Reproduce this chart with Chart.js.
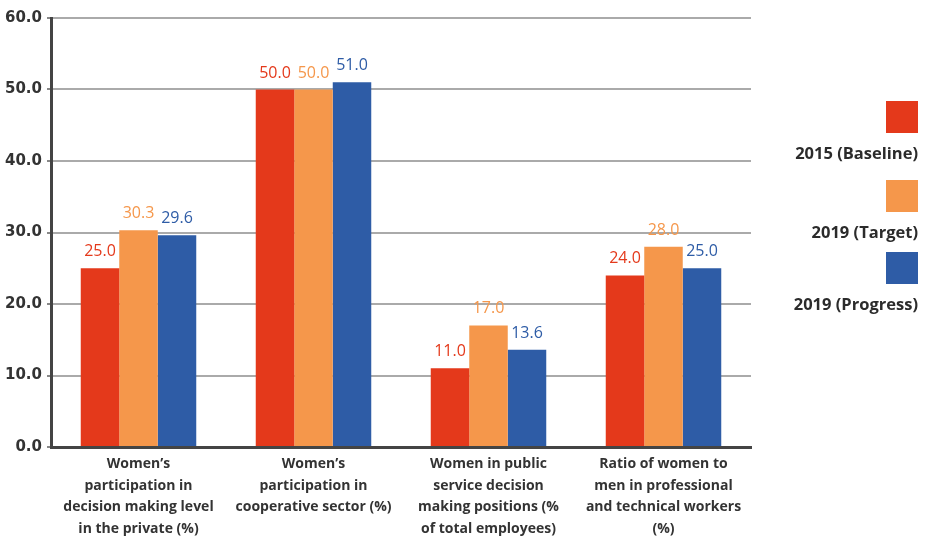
<!DOCTYPE html>
<html>
<head>
<meta charset="utf-8">
<script src="https://cdn.jsdelivr.net/npm/chart.js@4"></script>
<style>
  html, body { margin: 0; padding: 0; background: #fff; }
  #wrap { position: relative; width: 926px; height: 536px; }
  #legend { position: absolute; left: 0; top: 0; width: 926px; height: 536px; pointer-events: none;
            font-family: "Open Sans", sans-serif; font-weight: bold; font-size: 16.5px; color: #2b2b2b; }
  #legend .box { position: absolute; right: 8px; width: 32px; height: 32px; }
  #legend .txt { position: absolute; right: 8px; line-height: 20px; white-space: nowrap; }
</style>
</head>
<body>
<div id="wrap">
  <canvas id="myChart" width="926" height="536"></canvas>
  <div id="legend"></div>
</div>
<script>
const categories = [
  ["Women’s", "participation in", "decision making level", "in the private (%)"],
  ["Women’s", "participation in", "cooperative sector (%)"],
  ["Women in public", "service decision", "making positions (%", "of total employees)"],
  ["Ratio of women to", "men in professional", "and technical workers", "(%)"]
];
const seriesNames = ["2015 (Baseline)", "2019 (Target)", "2019 (Progress)"];
const baseline2015 = [25.0, 50.0, 11.0, 24.0];
const target2019 = [30.3, 50.0, 17.0, 28.0];
const progress2019 = [29.6, 51.0, 13.6, 25.0];
const yTicks = [0, 10, 20, 30, 40, 50, 60];
const colors = ['#e4391b', '#f5974b', '#2e5ca6'];

// value labels above each bar, in the bar's colour
const valueLabels = {
  id: 'valueLabels',
  afterDatasetsDraw(chart) {
    const ctx = chart.ctx;
    ctx.save();
    ctx.font = '16px "Open Sans", sans-serif';
    ctx.textAlign = 'center';
    ctx.textBaseline = 'alphabetic';
    chart.data.datasets.forEach((ds, i) => {
      chart.getDatasetMeta(i).data.forEach((bar, j) => {
        ctx.fillStyle = ds.backgroundColor;
        ctx.fillText(ds.data[j].toFixed(1), bar.x, bar.y - 12);
      });
    });
    ctx.restore();
  }
};

const ctx = document.getElementById('myChart').getContext('2d');
const myChart = new Chart(ctx, {
  type: 'bar',
  data: {
    labels: categories,
    datasets: [baseline2015, target2019, progress2019].map((d, i) => ({
      label: seriesNames[i],
      data: d,
      backgroundColor: colors[i],
      barPercentage: 1,
      categoryPercentage: 0.66
    }))
  },
  options: {
    responsive: false,
    animation: false,
    layout: { padding: { top: 18, right: 175, left: 0, bottom: 0 } },
    scales: {
      x: {
        grid: { display: false },
        border: { color: '#444', width: 3 },
        ticks: {
          color: '#333',
          font: { family: '"Open Sans", sans-serif', weight: 'bold', size: 14, lineHeight: 1.55 },
          maxRotation: 0,
          autoSkip: false,
          padding: -2
        },
        afterFit: scale => { scale.height = 89; }
      },
      y: {
        min: 0,
        max: 60,
        afterBuildTicks: scale => { scale.ticks = yTicks.map(v => ({ value: v })); },
        grid: {
          color: c => c.tick && c.tick.value === 0 ? '#444' : '#aaa',
          lineWidth: 2,
          tickLength: 4,
          tickColor: '#888'
        },
        border: { color: '#444', width: 3 },
        ticks: {
          color: '#333',
          padding: 5,
          font: { family: '"DejaVu Sans", sans-serif', weight: 'bold', size: 15 },
          callback: v => v.toFixed(1)
        },
        afterFit: scale => { scale.width = 51; }
      }
    },
    plugins: {
      legend: { display: false },
      tooltip: { enabled: false }
    }
  },
  plugins: [valueLabels]
});

// legend on the right: coloured square above each series name
const boxTops = [101, 180, 252];
const legend = document.getElementById('legend');
seriesNames.forEach((name, i) => {
  const box = document.createElement('div');
  box.className = 'box';
  box.style.top = boxTops[i] + 'px';
  box.style.background = colors[i];
  const txt = document.createElement('div');
  txt.className = 'txt';
  txt.style.top = (boxTops[i] + 42) + 'px';
  txt.textContent = name;
  legend.appendChild(box);
  legend.appendChild(txt);
});
</script>
</body>
</html>
